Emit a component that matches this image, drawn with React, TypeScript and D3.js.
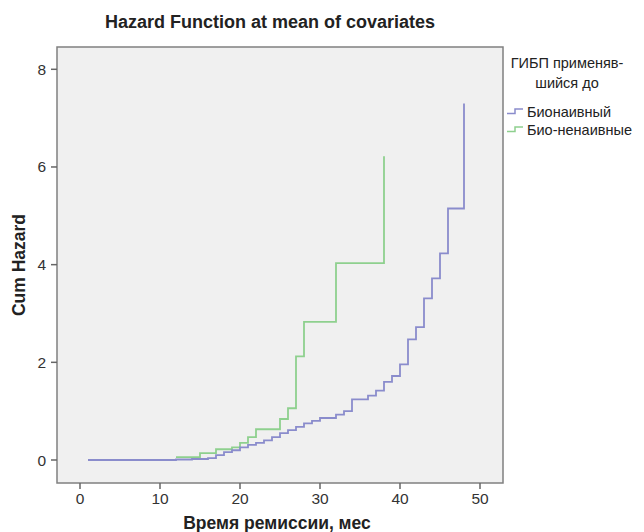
import React from "react";
import * as d3 from "d3";

const blueTimes = [1, 12, 14, 16, 17, 18, 19, 20, 21, 22, 23, 24, 25, 26, 27, 28, 29, 30, 32, 33, 34, 36, 37, 38, 39, 40, 41, 42, 43, 44, 45, 46, 48];
const blueValues = [0, 0.01, 0.02, 0.04, 0.1, 0.16, 0.2, 0.26, 0.31, 0.35, 0.4, 0.47, 0.55, 0.61, 0.68, 0.75, 0.8, 0.86, 0.93, 1.0, 1.24, 1.32, 1.42, 1.6, 1.72, 1.96, 2.47, 2.72, 3.31, 3.72, 4.23, 5.15, 7.3];
const greenTimes = [12, 15, 17, 19, 20, 21, 22, 25, 26, 27, 28, 32, 38];
const greenValues = [0.06, 0.14, 0.22, 0.26, 0.35, 0.47, 0.63, 0.84, 1.06, 2.12, 2.83, 4.03, 6.22];
const xTicks = [0, 10, 20, 30, 40, 50];
const yTicks = [0, 2, 4, 6, 8];
const seriesNames = ["Бионаивный", "Био-ненаивные"];
const seriesColors = ["#8a8ccc", "#8ed08e"];

export default function App() {
  const W = 644, H = 532;
  const fl = 57, fr = 503, ft = 47, fb = 483;
  const x = d3.scaleLinear().domain([0, 50]).range([80, 480]);
  const y = d3.scaleLinear().domain([0, 8]).range([460, 69.3]);
  const line = d3.line<[number, number]>().x(d => x(d[0])).y(d => y(d[1])).curve(d3.curveStepAfter);
  const blue = blueTimes.map((t, i) => [t, blueValues[i]] as [number, number]);
  const green = greenTimes.map((t, i) => [t, greenValues[i]] as [number, number]);
  const font = "'Liberation Sans', Arial, sans-serif";
  return (
    <svg width={W} height={H} style={{ position: "absolute", left: 0, top: 0, background: "#fff" }} fontFamily={font}>
      <text x={270} y={28} textAnchor="middle" fontWeight="bold" fontSize={18} fill="#222">Hazard Function at mean of covariates</text>
      <rect x={fl} y={ft} width={fr - fl} height={fb - ft} fill="#f0f0f0" stroke="#808080" strokeWidth={1.5} />
      {yTicks.map(v => (
        <g key={"y" + v}>
          <line x1={fl - 6} x2={fl} y1={y(v)} y2={y(v)} stroke="#666" strokeWidth={1.5} />
          <text x={fl - 11} y={y(v) + 5.5} textAnchor="end" fontSize={15.5} fill="#333">{v}</text>
        </g>
      ))}
      {xTicks.map(v => (
        <g key={"x" + v}>
          <line x1={x(v)} x2={x(v)} y1={fb} y2={fb + 6} stroke="#666" strokeWidth={1.5} />
          <text x={x(v)} y={fb + 21} textAnchor="middle" fontSize={15.5} fill="#333">{v}</text>
        </g>
      ))}
      <path d={line(green) || ""} fill="none" stroke={seriesColors[1]} strokeWidth={1.8} />
      <path d={line(blue) || ""} fill="none" stroke={seriesColors[0]} strokeWidth={1.8} />
      <text transform={`translate(25,${(ft + fb) / 2}) rotate(-90)`} textAnchor="middle" fontWeight="bold" fontSize={17.5} fill="#222">Cum Hazard</text>
      <text x={277} y={529} textAnchor="middle" fontWeight="bold" fontSize={17.5} fill="#222">Время ремиссии, мес</text>
      <text x={567} y={68} textAnchor="middle" fontSize={14.5} fill="#222">ГИБП применяв-</text>
      <text x={567} y={88} textAnchor="middle" fontSize={14.5} fill="#222">шийся до</text>
      {seriesNames.map((n, i) => {
        const cy = 112 + i * 18;
        return (
          <g key={n}>
            <path d={`M507,${cy + 1.5}H515V${cy - 3}H523`} fill="none" stroke={seriesColors[i]} strokeWidth={1.5} />
            <text x={527} y={cy + 5} fontSize={14.5} fill="#222">{n}</text>
          </g>
        );
      })}
    </svg>
  );
}
